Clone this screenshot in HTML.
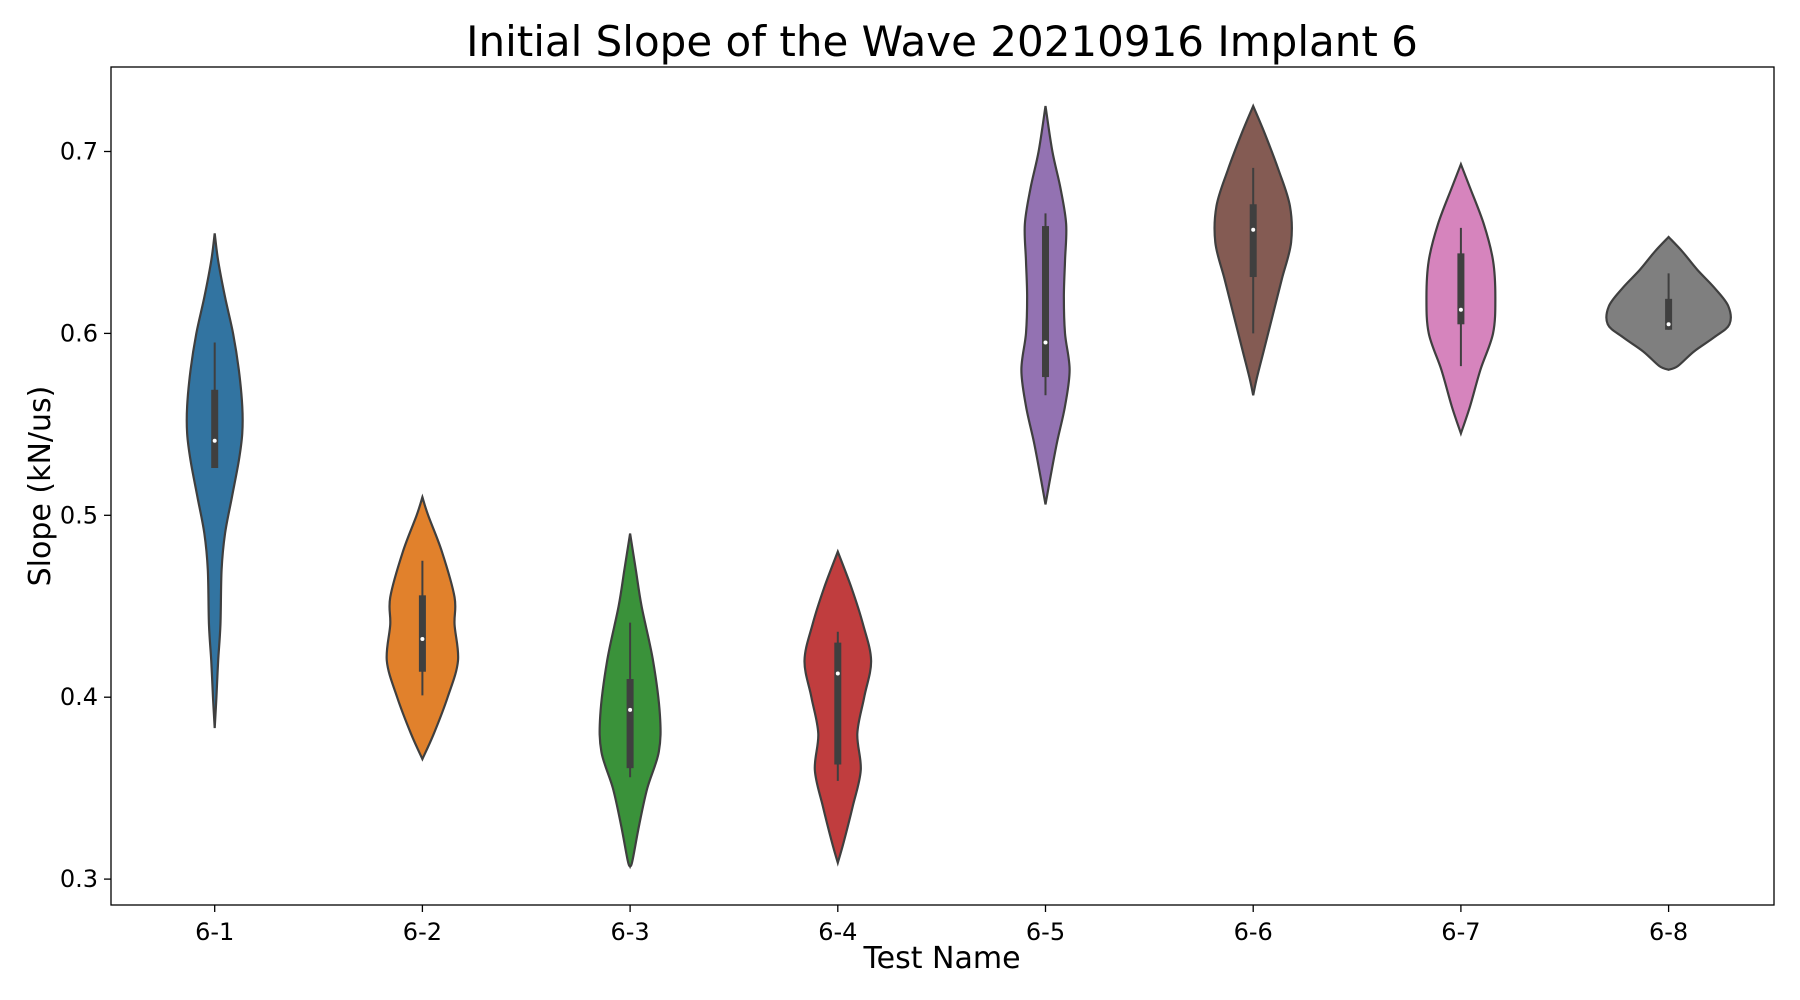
<!DOCTYPE html>
<html><head><meta charset="utf-8">
<style>
html,body{margin:0;padding:0;background:#fff;}
svg{display:block;font-family:"DejaVu Sans","Liberation Sans",sans-serif;}
</style></head>
<body>
<svg id="chart" width="1800" height="1000" viewBox="0 0 1800 1000">
<text x="942" y="56" font-size="42" text-anchor="middle" fill="#000">Initial Slope of the Wave 20210916 Implant 6</text>
<g id="plot"></g>
<text x="942" y="968" font-size="30" text-anchor="middle" fill="#000">Test Name</text>
<text transform="translate(50,486) rotate(-90)" font-size="30" text-anchor="middle" fill="#000">Slope (kN/us)</text>
</svg>
<script>
const categories = ["6-1","6-2","6-3","6-4","6-5","6-6","6-7","6-8"];
const colors = ["#3274a1","#e1812c","#3a923a","#c03d3e","#9372b2","#845b53","#d684bd","#7f7f7f"];
const yTicks = [0.3,0.4,0.5,0.6,0.7];
// violin density profiles: [value, half-width]
const profile1 = [[0.655,0],[0.64,3],[0.62,9],[0.6,16],[0.58,21],[0.56,24],[0.545,24],[0.53,21],[0.51,15],[0.49,9],[0.47,6],[0.44,5],[0.42,3],[0.40,1.5],[0.383,0]];
const profile2 = [[0.51,0],[0.5,5],[0.48,17],[0.455,28],[0.44,28],[0.42,31],[0.40,22],[0.38,10],[0.366,0]];
const profile3 = [[0.49,0],[0.47,5],[0.45,10],[0.42,20],[0.39,26],[0.37,25],[0.35,15],[0.33,8],[0.31,2],[0.307,0]];
const profile4 = [[0.48,0],[0.46,12],[0.44,22],[0.42,29],[0.40,23],[0.38,17],[0.36,20],[0.34,13],[0.32,5],[0.309,0]];
const profile5 = [[0.725,0],[0.70,6],[0.68,13],[0.66,18],[0.64,17],[0.62,16],[0.60,17],[0.58,21],[0.56,17],[0.54,10],[0.52,4],[0.506,0]];
const profile6 = [[0.725,0],[0.71,10],[0.69,22],[0.67,32],[0.65,33],[0.63,25],[0.61,17],[0.59,9],[0.575,3],[0.566,0]];
const profile7 = [[0.693,0],[0.68,8],[0.66,20],[0.64,28],[0.62,30],[0.60,28],[0.58,17],[0.56,8],[0.545,0]];
const profile8 = [[0.653,0],[0.645,12],[0.635,25],[0.625,40],[0.615,52],[0.605,53],[0.598,40],[0.59,22],[0.582,8],[0.58,0]];
const q1s = [0.526,0.414,0.361,0.363,0.576,0.631,0.605,0.602];
const q3s = [0.569,0.456,0.410,0.430,0.659,0.671,0.644,0.619];
const medians = [0.541,0.432,0.393,0.413,0.595,0.657,0.613,0.605];
const whiskLo = [0.526,0.401,0.356,0.354,0.566,0.600,0.582,0.602];
const whiskHi = [0.595,0.475,0.441,0.436,0.666,0.691,0.658,0.633];
const profiles = [profile1,profile2,profile3,profile4,profile5,profile6,profile7,profile8];

const L=111,R=1774,T=67,B=905;
const y = v => 151.5 + (0.7 - v) * 1819;
const x = i => 214.7 + i * 207.7;
const wScale = 1.148;
const NS="http://www.w3.org/2000/svg";
const plot=document.getElementById('plot');
function mk(tag,attrs){const e=document.createElementNS(NS,tag);for(const k in attrs)e.setAttribute(k,attrs[k]);return e;}
function spline(pts){
  let d="M"+pts[0][0]+","+pts[0][1];
  for(let i=0;i<pts.length-1;i++){
    const p0=pts[Math.max(i-1,0)],p1=pts[i],p2=pts[i+1],p3=pts[Math.min(i+2,pts.length-1)];
    const c1=[p1[0]+(p2[0]-p0[0])/6,p1[1]+(p2[1]-p0[1])/6];
    const c2=[p2[0]-(p3[0]-p1[0])/6,p2[1]-(p3[1]-p1[1])/6];
    d+=" C"+c1[0]+","+c1[1]+" "+c2[0]+","+c2[1]+" "+p2[0]+","+p2[1];
  }
  return d;
}
categories.forEach((c,i)=>{
  const cx=x(i);
  const right=profiles[i].map(p=>[cx+p[1]*wScale,y(p[0])]);
  const left=profiles[i].slice().reverse().map(p=>[cx-p[1]*wScale,y(p[0])]);
  const d=spline(right)+" L"+spline(left).slice(1)+" Z";
  const v=mk('path',{d:d,fill:colors[i],stroke:'#3f3f3f','stroke-width':2.2});
  
  
  plot.appendChild(v);
  const w=mk('line',{x1:cx,x2:cx,y1:y(whiskHi[i]),y2:y(whiskLo[i]),stroke:'#3f3f3f','stroke-width':2});
  
  
  plot.appendChild(w);
  const b=mk('rect',{x:cx-3.5,width:7,y:y(q3s[i]),height:y(q1s[i])-y(q3s[i]),fill:'#3f3f3f'});
  
  
  plot.appendChild(b);
  const m=mk('circle',{cx:cx,cy:y(medians[i]),r:2,fill:'#fff'});
  
  
  plot.appendChild(m);
  const t=mk('line',{x1:cx,x2:cx,y1:B,y2:B+7,stroke:'#000','stroke-width':1.3});
  
  
  plot.appendChild(t);
  const tl=mk('text',{x:cx,y:B+35,'font-size':24,'text-anchor':'middle',fill:'#000'});
  tl.textContent=c;
  
  
  plot.appendChild(tl);
});
yTicks.forEach(v=>{
  const t=mk('line',{x1:L-7,x2:L,y1:y(v),y2:y(v),stroke:'#000','stroke-width':1.3});
  
  
  plot.appendChild(t);
  const tl=mk('text',{x:L-13,y:y(v)+8,'font-size':24,'text-anchor':'end',fill:'#000'});
  tl.textContent=v.toFixed(1);
  
  
  plot.appendChild(tl);
});
const frame=mk('rect',{x:L,y:T,width:R-L,height:B-T,fill:'none',stroke:'#000','stroke-width':1.3});


plot.appendChild(frame);
</script>
</body></html>
